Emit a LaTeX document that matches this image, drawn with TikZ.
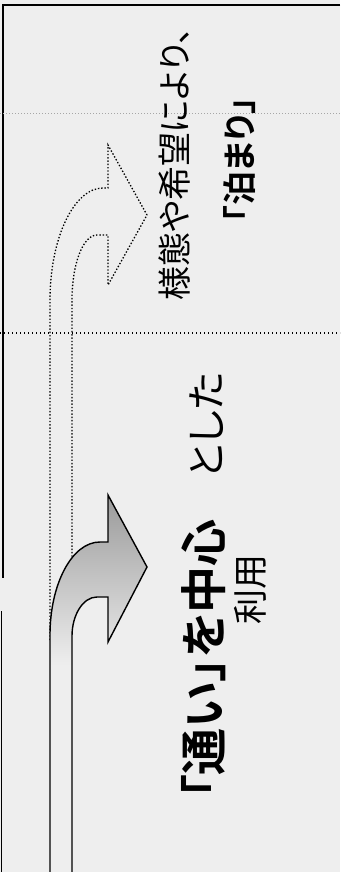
\documentclass[tikz,border=0pt]{standalone}
\usepackage{fontspec}
\setmainfont{Noto Sans CJK JP}[BoldFont={Noto Sans CJK JP Bold},RawFeature=+palt]
\usepackage{tikz}
\usetikzlibrary{positioning}
\definecolor{scangray}{HTML}{EEEEEE}
\definecolor{arrowgray}{HTML}{9A9A9A}

\begin{document}
\begin{tikzpicture}[x=1pt, y=-1pt,
  frame/.style={line width=1.8pt},
  sepline/.style={line width=1.2pt, dash pattern=on 1.4pt off 2.6pt},
  faintline/.style={line width=0.8pt, gray!70, dash pattern=on 1pt off 2pt},
  ghost/.style={line width=1.3pt, dash pattern=on 1.4pt off 1.9pt},
  turnarrow/.style={line width=1.4pt},
  vtext/.style={rotate=90, inner sep=0pt, anchor=west},
  bigtext/.style={font=\fontsize{47}{50}\selectfont},
  midtext/.style={font=\fontsize{34}{38}\selectfont},
]
  \useasboundingbox (0,0) rectangle (340,872);
  \fill[scangray] (0,0) rectangle (340,872);
  \draw[frame] (340,5) -- (3,5) -- (3,578);
  \draw[frame] (1.5,611) -- (1.5,872);
  \draw[faintline] (0,113) -- (340,113);
  \draw[sepline] (0,333) -- (340,333);
  \draw[ghost] (50,640) -- (50,300) .. controls (50,238) and (74,188) .. (103,188)
    -- (108,188) -- (108,145) -- (147,215) -- (108,285) -- (108,235) -- (97,235)
    .. controls (83,235) and (72,264) .. (72,300) -- (72,620);
  % solid bent arrow, shaded at the head only
  \begin{scope}
    \clip (50,872) -- (50,635) .. controls (50,584) and (72,542) .. (100,542)
      -- (108,542) -- (108,495) -- (147,567) -- (108,642) -- (108,597) -- (97,597)
      .. controls (83,597) and (72,615) .. (72,636) -- (72,872) -- cycle;
    \shade[top color=arrowgray, bottom color=scangray] (40,495) rectangle (150,665);
    \fill[scangray] (40,665) rectangle (150,872);
  \end{scope}
  \draw[turnarrow] (50,872) -- (50,635) .. controls (50,584) and (72,542) .. (100,542)
    -- (108,542) -- (108,495) -- (147,567) -- (108,642) -- (108,597) -- (97,597)
    .. controls (83,597) and (72,615) .. (72,636) -- (72,872);
  \node[vtext, bigtext] (visit) at (204,799)
    {\textbf{「通い」を中心}{\fontsize{40}{44}\selectfont 　とした}};
  \node[vtext, font=\fontsize{35}{38}\selectfont] (use) at (250,625) {利用};
  \node[vtext, midtext] (wish) at (175,301) {様態や希望により、};
  \node[vtext, midtext] (stay) at (240,223) {\textbf{「泊まり」}};
\end{tikzpicture}
\end{document}
